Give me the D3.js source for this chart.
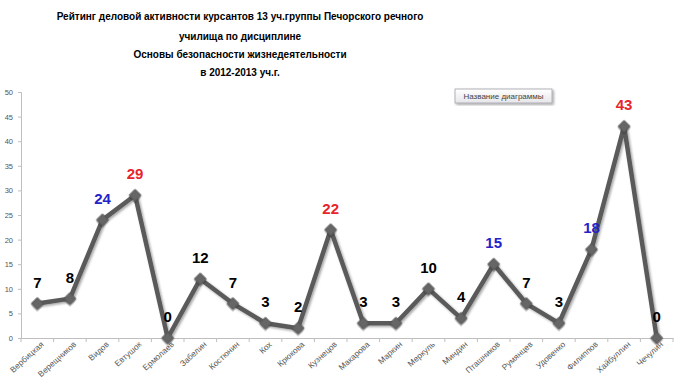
<!DOCTYPE html>
<html><head><meta charset="utf-8">
<script src="https://cdn.jsdelivr.net/npm/d3@7"></script>
<style>body{margin:0;background:#fff}svg{display:block}</style>
</head><body>
<script>
const titleLines = ["Рейтинг деловой активности курсантов 13 уч.группы Печорского речного","училища по дисциплине","Основы безопасности жизнедеятельности","в 2012-2013 уч.г."];
const categories = ["Вербицкая","Верещников","Видов","Евтушок","Ермолаев","Забелин","Костюнин","Кох","Крюкова","Кузнецов","Макарова","Маркин","Меркуль","Миндин","Пташников","Румянцев","Удовенко","Филиппов","Хайбуллин","Чечулин"];
const values = [7,8,24,29,0,12,7,3,2,22,3,3,10,4,15,7,3,18,43,0];
const labelColors = ["black","black","blue","red","black","black","black","black","black","red","black","black","black","black","blue","black","black","blue","red","black"];
const yTicks = [0,5,10,15,20,25,30,35,40,45,50];
const chartName = "Название диаграммы";

const W=684,H=384;
const colorMap={black:"#000",blue:"#2323c8",red:"#e8242c"};
const svg=d3.select("body").append("svg").attr("width",W).attr("height",H);
const defs=svg.append("defs");
const f=defs.append("filter").attr("id","sh").attr("x","-20%").attr("y","-20%").attr("width","140%").attr("height","140%");
f.append("feDropShadow").attr("dx",1.5).attr("dy",1.5).attr("stdDeviation",1.2).attr("flood-color","#000").attr("flood-opacity",0.35);
const g2=defs.append("linearGradient").attr("id","bx").attr("x1",0).attr("y1",0).attr("x2",0).attr("y2",1);
g2.append("stop").attr("offset","0%").attr("stop-color","#ffffff");
g2.append("stop").attr("offset","100%").attr("stop-color","#e6e6ea");

const x=d3.scaleBand().domain(categories).range([21,673]);
const y=d3.scaleLinear().domain([0,50]).range([338,92]);

// title
const t=svg.append("text").attr("text-anchor","middle").attr("transform","translate(240,0) scale(0.91,1)")
  .attr("font-family","'Liberation Sans',Arial,sans-serif").attr("font-weight","bold").attr("font-size",11).attr("fill","#000");
titleLines.forEach((s,i)=>t.append("tspan").attr("x",0).attr("y",[20,40,58,76][i]).text(s));

// y axis
const ya=svg.append("g").attr("transform","translate(21,0)").call(d3.axisLeft(y).tickValues(yTicks).tickSize(3).tickPadding(5));
ya.select(".domain").attr("stroke","#bfbfbf");
ya.selectAll(".tick line").attr("stroke","#bfbfbf");
ya.selectAll("text").attr("font-family","'Liberation Sans',Arial,sans-serif").attr("font-size",7.5).attr("fill","#555");

// x axis
const xa=svg.append("g").attr("transform","translate(0,338)").call(d3.axisBottom(x).tickSize(0).tickPadding(0));
xa.select(".domain").attr("stroke","#bfbfbf");
xa.selectAll(".tick text").attr("font-family","'Liberation Sans',Arial,sans-serif").attr("font-size",8.3).attr("fill","#555")
  .attr("text-anchor","end").attr("transform","translate(5,5) rotate(-42)").attr("dy","0.35em").attr("y",0);
const bounds=categories.map(c=>x(c)).concat([x.range()[1]]);
svg.append("g").selectAll("line").data(bounds).join("line")
  .attr("x1",d=>d).attr("x2",d=>d).attr("y1",338).attr("y2",342).attr("stroke","#bfbfbf");

// line
const data=categories.map((c,i)=>({c,v:values[i],col:labelColors[i]}));
const line=d3.line().x(d=>x(d.c)+x.bandwidth()/2).y(d=>y(d.v));
svg.append("path").datum(data).attr("d",line).attr("fill","none").attr("stroke","#5a5a5a").attr("stroke-width",4.5).attr("stroke-linejoin","round").attr("filter","url(#sh)");
svg.append("g").selectAll("path").data(data).join("path")
  .attr("d",d3.symbol().type(d3.symbolSquare).size(70)).attr("transform",d=>`translate(${x(d.c)+x.bandwidth()/2},${y(d.v)}) rotate(45)`)
  .attr("fill","#666").attr("stroke","#555").attr("stroke-width",0.8).attr("filter","url(#sh)");

// labels
svg.append("g").selectAll("text").data(data).join("text")
  .attr("x",d=>x(d.c)+x.bandwidth()/2).attr("y",d=>y(d.v)-16)
  .attr("text-anchor","middle").attr("font-family","'Liberation Sans',Arial,sans-serif").attr("font-weight","bold").attr("font-size",15)
  .attr("fill",d=>colorMap[d.col]).text(d=>d.v);

// chart name box
const bx=svg.append("g").attr("transform","translate(455,89)");
bx.append("rect").attr("width",97).attr("height",14).attr("fill","url(#bx)").attr("stroke","#a0a0a8").attr("stroke-width",0.8).attr("filter","url(#sh)");
bx.append("text").attr("x",48.5).attr("y",10).attr("text-anchor","middle").attr("font-family","'Liberation Sans',Arial,sans-serif").attr("font-size",8).attr("fill","#444").text(chartName);
</script>
</body></html>
